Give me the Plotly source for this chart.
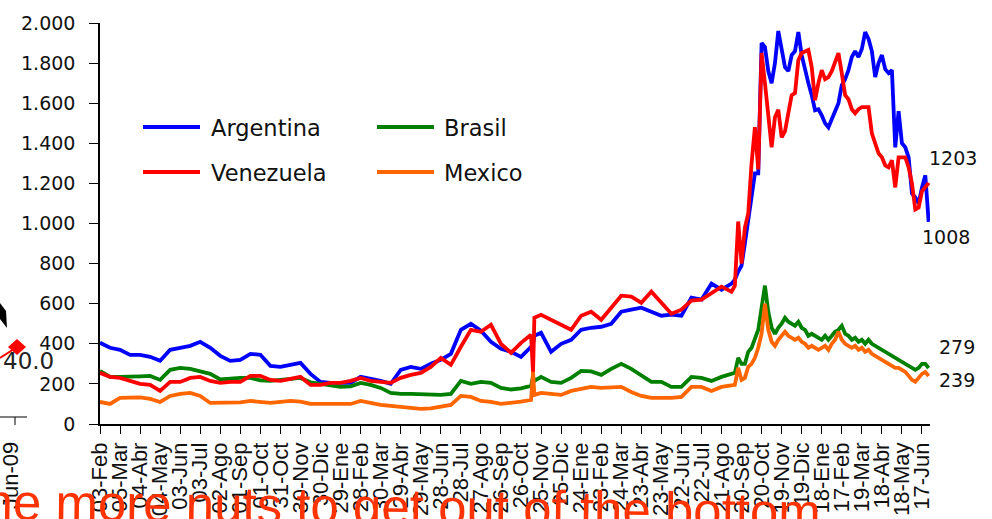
import pandas as pd
import plotly.graph_objects as go

# Observation dates: fortnightly until early Sep-2008 (plus the mid-Nov-2007 glitch),
# then every 5 days through the crisis period.
fortnightly = pd.date_range("2006-02-03", "2008-09-05", freq="15D")
glitch = pd.to_datetime(["2007-11-13", "2007-11-15"])
crisis = pd.date_range("2008-09-10", "2009-06-27", freq="5D")
dates = fortnightly.append(glitch).append(crisis).sort_values()

# EMBI spreads (basis points)
argentina = [
    405, 380, 370, 345, 345, 335, 315, 370, 380, 390,
    410, 380, 340, 315, 320, 350, 345, 290, 285, 295,
    305, 250, 210, 205, 205, 205, 235, 225, 215, 200,
    270, 285, 275, 300, 320, 350, 470, 500, 465, 410,
    375, 360, 335, 385,
    400, 440,
    455, 360, 400, 420, 470, 480, 485, 500, 560, 570,
    580, 560, 540, 545, 540, 630, 620, 700, 670, 700,
    720, 760, 790, 900, 1020, 1150, 1250, 1250, 1900, 1880,
    1760, 1700, 1800, 1960, 1880, 1780, 1760, 1840, 1860, 1955,
    1840, 1760, 1700, 1640, 1565, 1570, 1540, 1500, 1480, 1520,
    1560, 1600, 1690, 1720, 1765, 1830, 1860, 1830, 1870, 1955,
    1920, 1860, 1730, 1800, 1840, 1770, 1750, 1765, 1380, 1560,
    1400, 1380, 1330, 1150, 1130, 1100, 1180, 1240, 1008,
]
brasil = [
    265, 235, 235, 235, 238, 240, 220, 270, 280, 275,
    262, 250, 222, 228, 230, 230, 218, 215, 220, 225,
    230, 208, 200, 190, 185, 188, 205, 195, 180, 155,
    150, 150, 148, 145, 145, 150, 215, 200, 210, 205,
    180, 172, 178, 190,
    235, 215,
    235, 210, 205, 230, 265, 262, 245, 275, 300, 275,
    240, 210, 210, 185, 185, 235, 230, 215, 235, 250,
    255, 330, 300, 300, 360, 380, 420, 470, 580, 690,
    560, 480, 450, 480, 500, 530, 510, 500, 490, 510,
    480, 470, 440, 450, 440, 430, 420, 440, 420, 440,
    460, 470, 490, 450, 440, 420, 430, 410, 420, 400,
    420, 400, 390, 380, 370, 360, 350, 340, 330, 320,
    310, 300, 290, 280, 270, 280, 300, 300, 279,
]
venezuela = [
    255, 235, 230, 215, 200, 195, 165, 210, 210, 230,
    235, 215, 205, 210, 210, 240, 240, 220, 215, 225,
    235, 195, 195, 205, 205, 215, 230, 215, 210, 205,
    230, 245, 255, 285, 330, 295, 385, 470, 460, 495,
    400, 355, 405, 445,
    255, 530,
    545, 520, 490, 470, 540, 560, 520, 580, 640, 635,
    605, 660, 605, 550, 570, 615, 620, 655, 685, 660,
    690, 1010, 800, 980, 1050, 1300, 1480, 1270, 1850, 1700,
    1550, 1380, 1530, 1567, 1430, 1460, 1550, 1640, 1650, 1815,
    1850, 1860, 1865, 1780, 1615, 1700, 1765, 1720, 1730, 1760,
    1800, 1850, 1750, 1640, 1620, 1570, 1550, 1570, 1580, 1580,
    1580, 1450, 1400, 1350, 1330, 1290, 1280, 1315, 1180, 1330,
    1330, 1330, 1280, 1200, 1070, 1080, 1160, 1180, 1203,
]
mexico = [
    110, 100, 130, 130, 133, 125, 110, 140, 150, 155,
    140, 105, 105, 105, 108, 115, 112, 105, 110, 115,
    112, 100, 100, 100, 100, 100, 115, 105, 95, 90,
    85, 78, 75, 78, 85, 95, 140, 135, 115, 110,
    100, 105, 112, 120,
    260, 145,
    155, 150, 145, 165, 175, 185, 180, 182, 185, 160,
    140, 130, 130, 130, 135, 185, 185, 165, 185, 195,
    195, 280, 220, 230, 285, 300, 330, 380, 450, 600,
    470, 410, 390, 420, 440, 460, 440, 430, 420, 430,
    410, 400, 380, 390, 380, 370, 380, 390, 370, 400,
    420, 460, 420, 400, 390, 380, 390, 370, 380, 360,
    370, 350, 340, 330, 320, 310, 300, 290, 280, 280,
    270, 260, 240, 220, 210, 230, 250, 260, 239,
]

series = [
    ("Argentina", argentina, "#0000FF"),
    ("Brasil", brasil, "#008000"),
    ("Venezuela", venezuela, "#FF0000"),
    ("Mexico", mexico, "#FF6600"),
]

# x-axis ticks every 30 days, Spanish month abbreviations
tick_dates = pd.date_range("2006-02-03", periods=42, freq="30D")
tick_labels = [
    "03-Feb", "05-Mar", "04-Abr", "04-May", "03-Jun", "03-Jul", "02-Ago",
    "01-Sep", "01-Oct", "31-Oct", "30-Nov", "30-Dic", "29-Ene", "28-Feb",
    "30-Mar", "29-Abr", "29-May", "28-Jun", "28-Jul", "27-Ago", "26-Sep",
    "26-Oct", "25-Nov", "25-Dic", "24-Ene", "23-Feb", "24-Mar", "23-Abr",
    "23-May", "22-Jun", "22-Jul", "21-Ago", "20-Sep", "20-Oct", "19-Nov",
    "19-Dic", "18-Ene", "17-Feb", "19-Mar", "18-Abr", "18-May", "17-Jun",
]
y_ticks = list(range(0, 2001, 200))

W, H = 992, 519
L, R, T, B = 100, 62, 23, 95
PW, PH = W - L - R, H - T - B


def px(x):
    """pixel column -> paper x"""
    return (x - L) / PW


def py(y):
    """pixel row -> paper y"""
    return (H - B - y) / PH


fig = go.Figure()
for name, vals, color in series:
    fig.add_trace(go.Scatter(
        x=dates, y=vals, mode="lines", name=name,
        line=dict(color=color, width=3.8),
    ))

# closing values next to the line ends
end_labels = [
    (venezuela, -2, 25),
    (argentina, -9, -15),
    (brasil, 8, 21),
    (mexico, 8, -4),
]
annotations = []
for vals, dx, dy in end_labels:
    annotations.append(dict(
        x=dates[-1], y=vals[-1], xref="x", yref="y", text=str(vals[-1]),
        showarrow=False, xanchor="left", yanchor="middle", xshift=dx, yshift=dy,
        font=dict(family="DejaVu Sans", size=19, color="#111111"),
    ))

# two-column legend drawn by hand
shapes = []
legend_pos = [
    ("Argentina", "#0000FF", 143, 209, 127),
    ("Venezuela", "#FF0000", 143, 209, 172),
    ("Brasil", "#008000", 377, 442, 127),
    ("Mexico", "#FF6600", 377, 442, 172),
]
for name, color, lx, tx, ly in legend_pos:
    shapes.append(dict(type="line", xref="paper", yref="paper",
                       x0=px(lx), x1=px(lx + 57), y0=py(ly), y1=py(ly),
                       line=dict(color=color, width=4)))
    annotations.append(dict(
        x=px(tx), y=py(ly + 1), xref="paper", yref="paper", text=name,
        showarrow=False, xanchor="left", yanchor="middle",
        font=dict(family="DejaVu Sans", size=22.5, color="#111111"),
    ))

# neighbouring chart fragment at the left edge
shapes += [
    dict(type="line", xref="paper", yref="paper", x0=px(0), x1=px(27),
         y0=py(417), y1=py(417), line=dict(color="black", width=1)),
    dict(type="line", xref="paper", yref="paper", x0=px(15), x1=px(15),
         y0=py(417), y1=py(425), line=dict(color="black", width=1)),
    dict(type="line", xref="paper", yref="paper", x0=px(0), x1=px(14),
         y0=py(358), y1=py(349), line=dict(color="#FF0000", width=2)),
    dict(type="path", xref="paper", yref="paper",
         path=(f"M {px(8)},{py(347)} L {px(17)},{py(339)} L {px(26)},{py(347)} "
               f"L {px(17)},{py(355)} Z"),
         fillcolor="#FF0000", line=dict(width=0)),
    dict(type="path", xref="paper", yref="paper",
         path=(f"M {px(0)},{py(303)} L {px(6)},{py(311)} L {px(7)},{py(328)} "
               f"L {px(0)},{py(319)} Z"),
         fillcolor="black", line=dict(width=0)),
]
annotations += [
    dict(x=px(1), y=py(361), xref="paper", yref="paper", text="40.0",
         showarrow=False, xanchor="left", yanchor="middle",
         font=dict(family="DejaVu Sans", size=23, color="#222222")),
    dict(x=px(11), y=py(476), xref="paper", yref="paper", text="Jun-09",
         showarrow=False, xanchor="center", yanchor="middle", textangle=-90,
         font=dict(family="Liberation Sans", size=22, color="#111111")),
    dict(x=px(364), y=py(507), xref="paper", yref="paper",
         text="Some more nuts to get out of the bottom",
         showarrow=False, xanchor="center", yanchor="middle", textangle=0.7,
         font=dict(family="Liberation Sans", size=51, color="#FF3300")),
]

fig.update_layout(
    width=W, height=H, autosize=False,
    margin=dict(l=L, r=R, t=T, b=B, pad=0, autoexpand=False),
    paper_bgcolor="white", plot_bgcolor="white",
    showlegend=False,
    separators=",.",
    shapes=shapes,
    annotations=annotations,
    xaxis=dict(
        type="date", range=["2006-02-03", "2009-06-29"], automargin=False,
        tickmode="array", tickvals=tick_dates, ticktext=tick_labels,
        tickangle=-90, ticks="outside", ticklen=8, tickcolor="black",
        showline=True, linecolor="black", linewidth=1.5,
        showgrid=False, zeroline=False, ticklabelstandoff=0,
        tickfont=dict(family="Liberation Sans", size=22, color="#111111"),
    ),
    yaxis=dict(
        range=[0, 2000], tickmode="array", tickvals=y_ticks, tickformat=",d",
        automargin=False,
        ticks="outside", ticklen=9, tickcolor="black",
        showline=True, linecolor="black", linewidth=1.5,
        showgrid=False, zeroline=False, ticklabelstandoff=10,
        tickfont=dict(family="DejaVu Sans", size=19, color="#111111"),
    ),
)

fig.write_html("out.html", config={"displayModeBar": False})
